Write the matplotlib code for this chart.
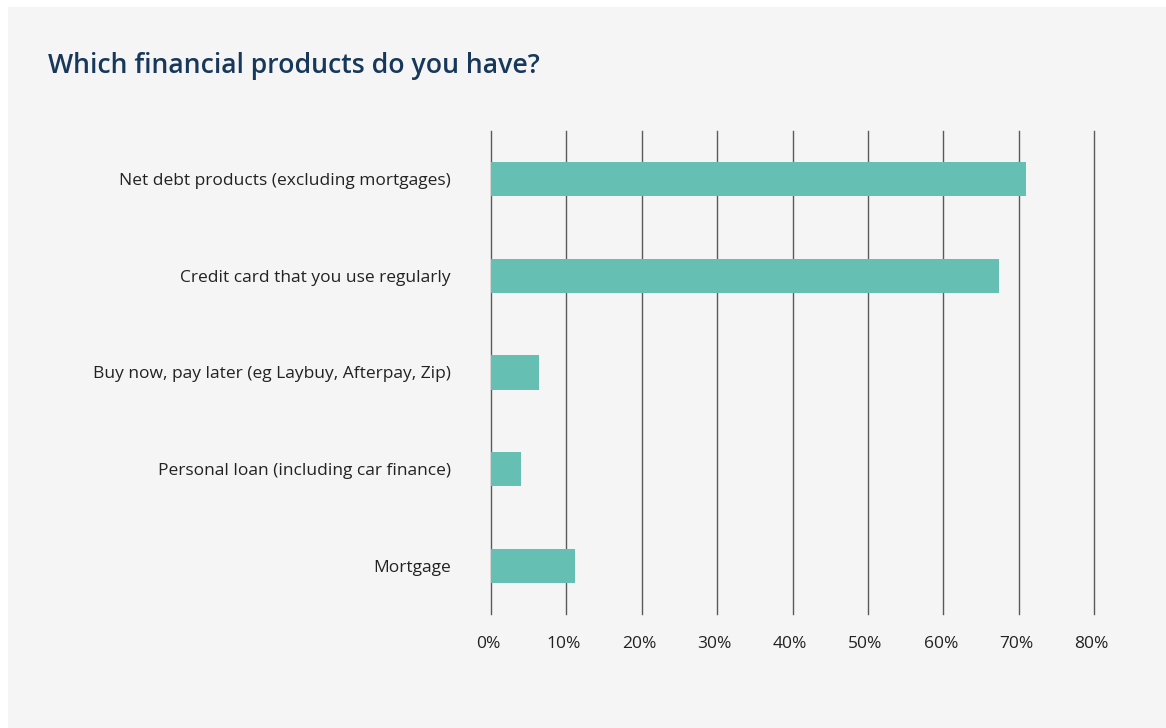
import matplotlib
matplotlib.use("Agg")
import matplotlib.pyplot as plt
from matplotlib.patches import Rectangle
from matplotlib.transforms import ScaledTranslation

categories = [
    "Net debt products (excluding mortgages)",
    "Credit card that you use regularly",
    "Buy now, pay later (eg Laybuy, Afterpay, Zip)",
    "Personal loan (including car finance)",
    "Mortgage",
]
values = [71.0, 67.4, 6.4, 4.0, 11.1]
x_ticks = [0, 10, 20, 30, 40, 50, 60, 70, 80]
x_tick_labels = [f"{t}%" for t in x_ticks]
title = "Which financial products do you have?"

W, H = 1166, 728
fig = plt.figure(figsize=(W / 100, H / 100), dpi=100, facecolor="white")

# light grey panel behind the chart
panel = Rectangle((8 / W, 0), 1 - 8 / W, 1 - 7 / H,
                  transform=fig.transFigure, facecolor="#f5f5f5",
                  edgecolor="none", zorder=-10)
fig.patches.append(panel)

ax = fig.add_axes([491 / W, 1 - 614 / H, (1094 - 491) / W, (614 - 131) / H])
ax.set_zorder(5)
ax.set_facecolor("none")

ypos = list(range(len(categories)))
ax.barh(ypos, values, height=0.355, color="#65c0b3", zorder=3)

ax.set_xlim(0, 80)
ax.set_ylim(len(categories) - 0.5, -0.5)
ax.set_xticks(x_ticks)
ax.set_xticklabels(x_tick_labels)
ax.set_yticks(ypos)
ax.set_yticklabels(categories)

for t in x_ticks:
    ax.axvline(t, color="#5a5a5a", lw=1.0, zorder=2, clip_on=False)

for s in ax.spines.values():
    s.set_visible(False)

ax.tick_params(axis="both", length=0, labelsize=12.5, labelcolor="#222222")
ax.tick_params(axis="y", pad=29)
ax.tick_params(axis="x", pad=16)
shift = ScaledTranslation(-2.5 / 100, 0, fig.dpi_scale_trans)
for lbl in ax.get_xticklabels():
    lbl.set_fontfamily("Open Sans")
    lbl.set_transform(lbl.get_transform() + shift)
for lbl in ax.get_yticklabels():
    lbl.set_fontfamily("Open Sans")

fig.text(48 / W, 1 - 73 / H, title, fontsize=19.2, fontweight="semibold",
         color="#17385a", family="Open Sans", va="baseline", ha="left",
         zorder=6)

fig.savefig("out.png", dpi=100, facecolor=fig.get_facecolor())
